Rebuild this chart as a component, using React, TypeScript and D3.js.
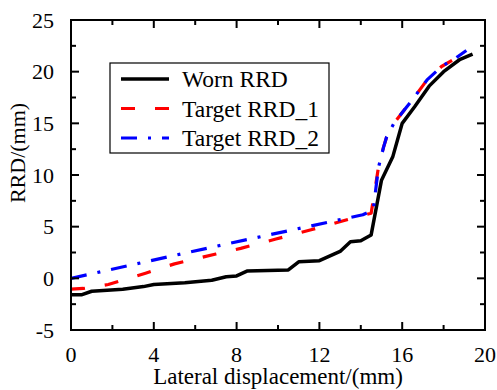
import React, { useEffect, useRef } from "react";
import * as d3 from "d3";

const wornX = [0, 0.5, 1.0, 2.5, 3.5, 4.0, 5.5, 6.8, 7.5, 8.0, 8.5, 10.5, 11.0, 12.0, 13.0, 13.5, 14.0, 14.5, 15.0, 15.55, 16.0, 16.6, 17.3, 18.0, 18.8, 19.4];
const wornY = [-1.6, -1.6, -1.25, -1.05, -0.8, -0.6, -0.42, -0.18, 0.16, 0.23, 0.7, 0.81, 1.6, 1.71, 2.6, 3.55, 3.64, 4.2, 9.5, 11.8, 15.0, 16.6, 18.6, 20.0, 21.2, 21.7];

const t1X = [0, 0.6, 1.8, 3.6, 5.0, 7.0, 8.2, 9.9, 11.6, 13.2, 14.5, 14.85, 15.1, 15.25, 15.6, 16.1, 16.5, 17.2, 17.9, 18.5, 19.1];
const t1Y = [-1.05, -0.98, -0.6, 0.5, 1.4, 2.35, 2.9, 3.8, 4.7, 5.6, 6.3, 10.7, 12.7, 13.7, 15.0, 16.3, 17.3, 19.2, 20.5, 21.2, 22.0];

const t2X = [0, 7.0, 14.1, 14.6, 14.85, 15.1, 15.25, 15.6, 16.1, 16.5, 17.2, 17.9, 18.5, 19.1];
const t2Y = [0, 3.1, 6.15, 6.6, 10.7, 12.7, 13.7, 15.0, 16.3, 17.3, 19.2, 20.5, 21.2, 22.05];

const xTicks = [0, 4, 8, 12, 16, 20];
const xMinor = [2, 6, 10, 14, 18];
const yTicks = [-5, 0, 5, 10, 15, 20, 25];
const yMinor = [-2.5, 2.5, 7.5, 12.5, 17.5, 22.5];

const seriesNames = ["Worn RRD", "Target RRD_1", "Target RRD_2"];
const seriesColors = ["#000000", "#ff0000", "#0000ff"];
const seriesDash = ["none", "14,20", "16,11,3,11"];
const seriesWidth = [3.5, 3.2, 3.2];

const FF = "'Liberation Serif', 'Times New Roman', serif";

export default function App() {
  const ref = useRef<SVGSVGElement>(null);
  useEffect(() => {
    if (!ref.current) return;
    ref.current.querySelectorAll("text").forEach(t => {
      (t as SVGTextElement).style.setProperty("font-family", FF, "important");
    });
  }, []);
  const L = 71, R = 485, T = 20, B = 330;
  const x = d3.scaleLinear().domain([0, 20]).range([L, R]);
  const y = d3.scaleLinear().domain([-5, 25]).range([B, T]);
  const line = d3.line<[number, number]>().x(d => x(d[0])).y(d => y(d[1]));
  const series = [
    wornX.map((v, i) => [v, wornY[i]] as [number, number]),
    t1X.map((v, i) => [v, t1Y[i]] as [number, number]),
    t2X.map((v, i) => [v, t2Y[i]] as [number, number]),
  ];
  const maj = 8, mino = 5;
  const legendRows = [79, 108.5, 138];
  return (
    <svg id="rrdchart" ref={ref} width={497} height={390} fontFamily={FF}
      style={{ position: "absolute", left: 0, top: 0, background: "#fff" }}>
      <style>{`#rrdchart text, svg#rrdchart g text { font-family: ${FF} !important; }`}</style>
      <rect x={0} y={0} width={497} height={390} fill="#fff" />
      <defs>
        <clipPath id="pc"><rect x={L} y={T} width={R - L} height={B - T} /></clipPath>
      </defs>
      <g clipPath="url(#pc)">
        {series.map((s, i) => (
          <path key={i} d={line(s) || ""} fill="none" stroke={seriesColors[i]} strokeWidth={seriesWidth[i]}
            strokeDasharray={seriesDash[i]} strokeLinejoin="round" />
        ))}
      </g>
      {xTicks.map(t => (
        <g key={"xt" + t}>
          <line x1={x(t)} x2={x(t)} y1={B} y2={B - maj} stroke="#000" strokeWidth={2} />
          <line x1={x(t)} x2={x(t)} y1={T} y2={T + maj} stroke="#000" strokeWidth={2} />
          <text x={x(t)} y={362} textAnchor="middle" fontSize={22} fontFamily={FF}>{t}</text>
        </g>
      ))}
      {xMinor.map(t => (
        <g key={"xm" + t}>
          <line x1={x(t)} x2={x(t)} y1={B} y2={B - mino} stroke="#000" strokeWidth={2} />
          <line x1={x(t)} x2={x(t)} y1={T} y2={T + mino} stroke="#000" strokeWidth={2} />
        </g>
      ))}
      {yTicks.map(t => (
        <g key={"yt" + t}>
          <line x1={L} x2={L + maj} y1={y(t)} y2={y(t)} stroke="#000" strokeWidth={2} />
          <line x1={R} x2={R - maj} y1={y(t)} y2={y(t)} stroke="#000" strokeWidth={2} />
          <text x={54} y={y(t)} dy="0.35em" textAnchor="end" fontSize={22} fontFamily={FF}>{t}</text>
        </g>
      ))}
      {yMinor.map(t => (
        <g key={"ym" + t}>
          <line x1={L} x2={L + mino} y1={y(t)} y2={y(t)} stroke="#000" strokeWidth={2} />
          <line x1={R} x2={R - mino} y1={y(t)} y2={y(t)} stroke="#000" strokeWidth={2} />
        </g>
      ))}
      <rect x={L} y={T} width={R - L} height={B - T} fill="none" stroke="#000" strokeWidth={2} />
      <text x={(L + R) / 2} y={384} textAnchor="middle" fontSize={23} fontFamily={FF}>Lateral displacement/(mm)</text>
      <text transform={`translate(25,153) rotate(-90)`} textAnchor="middle" fontSize={22} fontFamily={FF}>RRD/(mm)</text>
      <rect x={110} y={63} width={219} height={90} fill="#fff" stroke="#000" strokeWidth={1.2} />
      {seriesNames.map((n, i) => (
        <g key={n}>
          <line x1={121} x2={169} y1={legendRows[i]} y2={legendRows[i]} stroke={seriesColors[i]}
            strokeWidth={seriesWidth[i]} strokeDasharray={seriesDash[i]} />
          <text x={182} y={legendRows[i] + 8} fontSize={23.5} fontFamily={FF}>{n}</text>
        </g>
      ))}
    </svg>
  );
}
